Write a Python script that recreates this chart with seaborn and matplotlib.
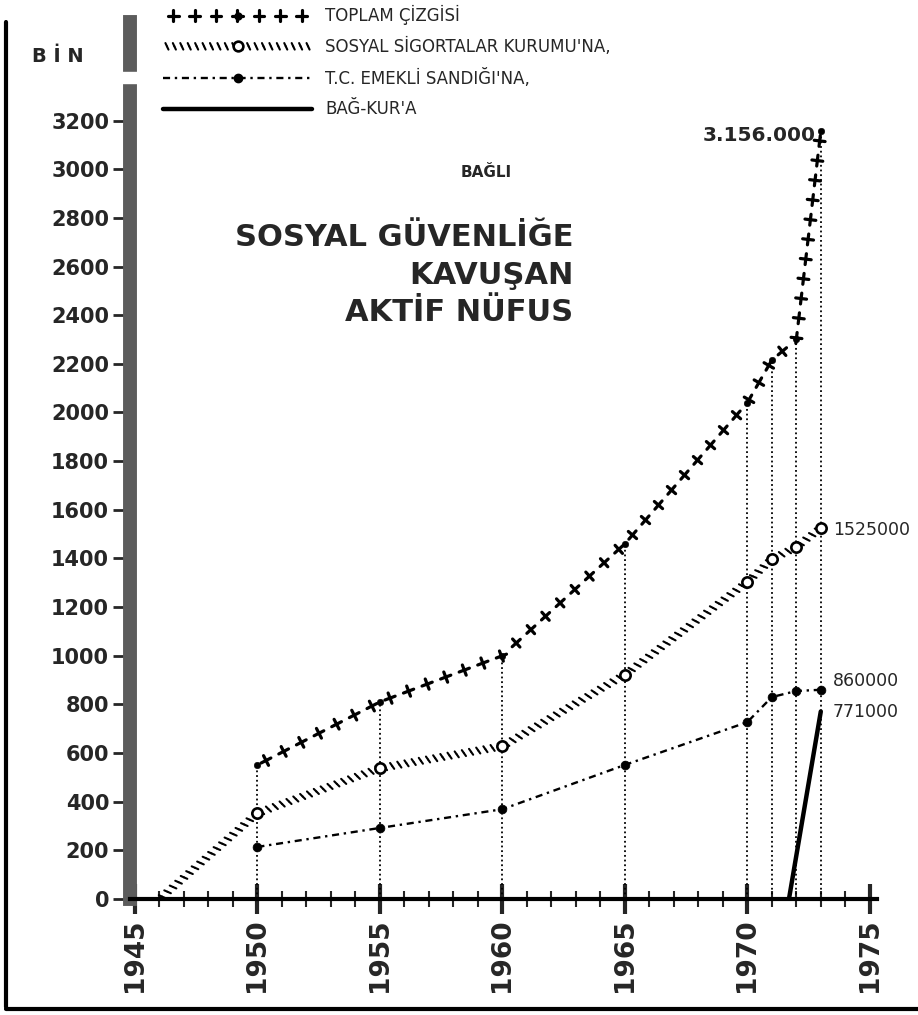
import matplotlib
matplotlib.use("Agg")
import matplotlib.pyplot as plt
import matplotlib.patheffects as pe
from matplotlib.lines import Line2D
from matplotlib.patches import Rectangle
import seaborn as sns

# bin kisi (thousands)
yillar_toplam = [1950, 1955, 1960, 1965, 1970, 1971, 1972, 1973]
toplam = [551, 810, 1000, 1460, 2040, 2215, 2300, 3156]

yillar_ssk = [1946, 1950, 1955, 1960, 1965, 1970, 1971, 1972, 1973]
ssk = [0, 353, 538, 628, 922, 1303, 1397, 1447, 1525]

yillar_emekli = [1950, 1955, 1960, 1965, 1970, 1971, 1972, 1973]
emekli = [214, 292, 369, 551, 727, 830, 855, 860]

yillar_bagkur = [1971.7, 1973]
bagkur = [0, 771]

y_ticks = list(range(0, 3201, 200))
x_ticks = list(range(1945, 1976, 5))

sns.set_style("ticks")
plt.rcParams["font.family"] = ["DejaVu Sans"]

fig = plt.figure(figsize=(9.18, 10.15), dpi=100)
ax = fig.add_axes([0.1416, 0.1143, 0.8139, 0.8640])

# plus-sign line and hatched line made from ticks along the path
arti = [pe.TickedStroke(angle=a, spacing=14, length=0.28) for a in (0, 90, 180, -90)]
tarama = [pe.TickedStroke(angle=a, spacing=5.2, length=0.5) for a in (115, -65)]

# drop lines under the total
ax.vlines(yillar_toplam, 0, toplam, colors="k", linestyles=(0, (1, 1.6)), lw=1.3, zorder=1)

sns.lineplot(x=yillar_toplam, y=toplam, ax=ax, color="k", lw=2.3,
             path_effects=arti, legend=False)
sns.scatterplot(x=yillar_toplam, y=toplam, ax=ax, color="k", s=22,
                edgecolor="k", zorder=4, legend=False)

sns.lineplot(x=yillar_ssk, y=ssk, ax=ax, color="k", lw=1.5,
             path_effects=tarama, legend=False)
sns.scatterplot(x=yillar_ssk[1:], y=ssk[1:], ax=ax, color="white", s=55,
                edgecolor="k", linewidth=1.9, zorder=4, legend=False)

sns.lineplot(x=yillar_emekli, y=emekli, ax=ax, color="k", lw=1.7,
             linestyle=(0, (3, 2, 1, 2)), legend=False)
sns.scatterplot(x=yillar_emekli, y=emekli, ax=ax, color="k", s=40,
                edgecolor="k", zorder=4, legend=False)

sns.lineplot(x=yillar_bagkur, y=bagkur, ax=ax, color="k", lw=3.2, legend=False)

ax.set_xlim(1944.8, 1975.3)
ax.set_ylim(0, 3605)
ax.set_xlabel("")
ax.set_ylabel("")

for s in ("top", "right"):
    ax.spines[s].set_visible(False)
ax.spines["left"].set_linewidth(10)
ax.spines["left"].set_color("#5c5c5c")
ax.spines["bottom"].set_linewidth(3)
ax.spines["bottom"].set_color("k")

ax.set_xticks(x_ticks)
ax.set_xticks(range(1945, 1976), minor=True)
ax.tick_params(axis="x", which="major", direction="inout", length=22, width=3,
               pad=3, labelsize=19, labelrotation=90)
ax.tick_params(axis="x", which="minor", direction="inout", length=12, width=1.5)
ax.set_yticks(y_ticks)
ax.tick_params(axis="y", direction="out", length=12, width=2, pad=3, labelsize=15)
for lbl in ax.get_xticklabels() + ax.get_yticklabels():
    lbl.set_fontweight("bold")

ax.text(1962.9, 2720, "SOSYAL GÜVENLİĞE", ha="right", va="center", fontsize=22, weight="bold")
ax.text(1962.9, 2565, "KAVUŞAN", ha="right", va="center", fontsize=22, weight="bold")
ax.text(1962.9, 2410, "AKTİF NÜFUS", ha="right", va="center", fontsize=22, weight="bold")
ax.text(1960.4, 2985, "BAĞLI", ha="right", va="center", fontsize=11, weight="bold")

ax.text(1972.8, 3140, "3.156.000", ha="right", va="center", fontsize=14.5, weight="bold")
ax.text(1973.5, 1517, "1525000", ha="left", va="center", fontsize=12.5)
ax.text(1973.5, 896, "860000", ha="left", va="center", fontsize=12.5)
ax.text(1973.5, 769, "771000", ha="left", va="center", fontsize=12.5)

fig.text(32 / 918, 1 - 57 / 1015, "B İ N", fontsize=14, weight="bold", va="center")

# break in the grey axis bar, and the scan frame
fig.add_artist(Rectangle((116 / 918, 1 - 83 / 1015), 26 / 918, 11 / 1015,
                         transform=fig.transFigure, color="white", zorder=5))
fig.add_artist(Line2D([0.007, 0.007], [0.008, 0.978], transform=fig.transFigure, color="k", lw=3))
fig.add_artist(Line2D([0.007, 1.0], [0.006, 0.006], transform=fig.transFigure, color="k", lw=3))

h_toplam = (Line2D([], [], color="k", lw=2.3, path_effects=arti),
            Line2D([], [], marker="o", ms=5, ls="None", color="k"))
h_ssk = (Line2D([], [], color="k", lw=1.5, path_effects=tarama),
         Line2D([], [], marker="o", ms=7, ls="None", mfc="white", mec="k", mew=1.9))
h_emekli = (Line2D([], [], color="k", lw=1.7, linestyle=(0, (3, 2, 1, 2))),
            Line2D([], [], marker="o", ms=6, ls="None", color="k"))
h_bagkur = Line2D([], [], color="k", lw=3.2)
fig.legend([h_toplam, h_ssk, h_emekli, h_bagkur],
           ["TOPLAM ÇİZGİSİ", "SOSYAL SİGORTALAR KURUMU'NA,",
            "T.C. EMEKLİ SANDIĞI'NA,", "BAĞ-KUR'A"],
           loc="upper left", bbox_to_anchor=(160 / 918, 1 - 2 / 1015), frameon=False,
           handlelength=8.9, fontsize=12, labelspacing=0.76, handletextpad=0.8,
           borderaxespad=0, borderpad=0.2)

fig.savefig("out.png", dpi=100)
